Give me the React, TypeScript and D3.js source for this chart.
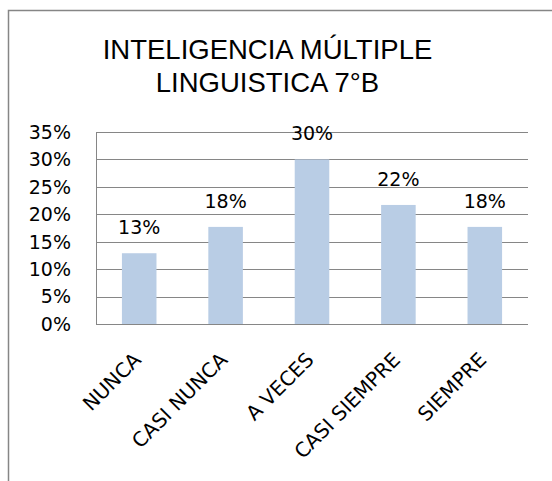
import { useEffect, useRef } from 'react';
import * as d3 from 'd3';

const categories = ['NUNCA', 'CASI NUNCA', 'A VECES', 'CASI SIEMPRE', 'SIEMPRE'];
const values = [0.129, 0.177, 0.30, 0.217, 0.177];
const yTicks = [0, 0.05, 0.1, 0.15, 0.2, 0.25, 0.3, 0.35];
const titleLines = ['INTELIGENCIA MÚLTIPLE', 'LINGUISTICA 7°B'];

const App = () => {
  const svgRef = useRef<SVGSVGElement>(null);

  useEffect(() => {
    const svg = d3.select(svgRef.current);
    svg.selectAll('*').remove();

    const width = 552;
    const height = 481;
    const plot = { left: 96, right: 528, top: 132, bottom: 324 };
    const labelFont = '"DejaVu Sans", sans-serif';
    const grey = '#868686';

    // chart border (runs off the right and bottom edges)
    svg.append('rect')
      .attr('x', 8.5)
      .attr('y', 10.5)
      .attr('width', width + 20)
      .attr('height', height + 20)
      .attr('fill', '#fff')
      .attr('stroke', grey)
      .attr('stroke-width', 1.5);

    // title
    svg.append('text')
      .attr('x', 267.5)
      .attr('text-anchor', 'middle')
      .attr('font-family', '"Liberation Sans", Arial, sans-serif')
      .attr('font-size', 27.5)
      .attr('fill', '#000')
      .selectAll('tspan')
      .data(titleLines)
      .join('tspan')
      .attr('x', 267.5)
      .attr('y', (_, i) => 59 + i * 33)
      .text(d => d);

    const x = d3.scaleBand()
      .domain(categories)
      .range([plot.left, plot.right])
      .paddingInner(0.6)
      .paddingOuter(0.3);

    const y = d3.scaleLinear()
      .domain([0, 0.35])
      .range([plot.bottom, plot.top]);

    // gridlines
    svg.append('g')
      .selectAll('line')
      .data(yTicks)
      .join('line')
      .attr('x1', plot.left)
      .attr('x2', plot.right)
      .attr('y1', d => Math.round(y(d)) + 0.5)
      .attr('y2', d => Math.round(y(d)) + 0.5)
      .attr('stroke', grey)
      .attr('stroke-width', 1);

    // y axis line
    svg.append('line')
      .attr('x1', plot.left + 0.5)
      .attr('x2', plot.left + 0.5)
      .attr('y1', plot.top)
      .attr('y2', plot.bottom + 1)
      .attr('stroke', grey);

    // y tick labels
    svg.append('g')
      .selectAll('text')
      .data(yTicks)
      .join('text')
      .attr('x', 71)
      .attr('y', d => y(d))
      .attr('dy', '0.36em')
      .attr('text-anchor', 'end')
      .attr('font-family', labelFont)
      .attr('font-size', 19)
      .text(d => d3.format('.0%')(d));

    // bars
    svg.append('g')
      .selectAll('rect')
      .data(values)
      .join('rect')
      .attr('x', (_, i) => x(categories[i])!)
      .attr('y', d => y(d))
      .attr('width', x.bandwidth())
      .attr('height', d => plot.bottom - y(d))
      .attr('fill', '#B9CDE5');

    // value labels
    svg.append('g')
      .selectAll('text')
      .data(values)
      .join('text')
      .attr('x', (_, i) => x(categories[i])! + x.bandwidth() / 2)
      .attr('y', d => y(d) - 19)
      .attr('text-anchor', 'middle')
      .attr('font-family', labelFont)
      .attr('font-size', 19)
      .text(d => d3.format('.0%')(d));

    // category labels, rotated
    svg.append('g')
      .selectAll('text')
      .data(categories)
      .join('text')
      .attr('transform', d => `translate(${x(d)! + x.bandwidth() / 2 + 3}, 361) rotate(-45)`)
      .attr('text-anchor', 'end')
      .attr('font-family', labelFont)
      .attr('font-size', 20)
      .text(d => d);
  }, []);

  return (
    <svg
      ref={svgRef}
      width="552"
      height="481"
      viewBox="0 0 552 481"
      style={{ position: 'absolute', left: 0, top: 0 }}
    ></svg>
  );
};

export default App;
